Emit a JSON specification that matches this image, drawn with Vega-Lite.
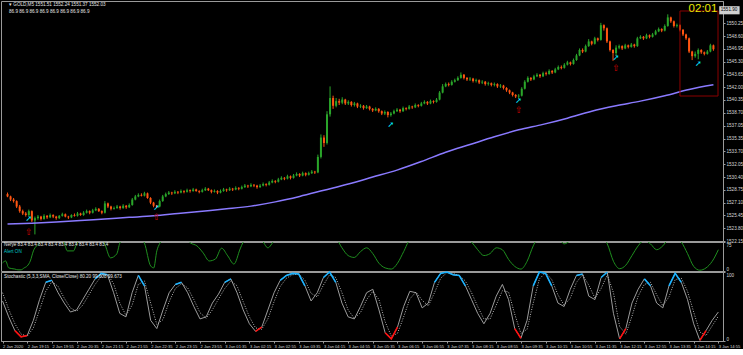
{
"$schema":"https://vega.github.io/schema/vega-lite/v6.json",
"padding":0,
"spacing":1,
"bounds":"flush",
"config":{"background":"#000000","view":{"stroke":"#9a9a9a","strokeWidth":1},
"axis":{"labelColor":"#d8d8d8","labelFont":"Liberation Sans","labelFontSize":4.6,"domainColor":"#9a9a9a","tickColor":"#9a9a9a","tickSize":2,"grid":false,"labelPadding":1,"labelOverlap":false},
"text":{"font":"Liberation Sans"}},
"datasets":{
"one":[{}],
"candles":[
{"t":0,"o":1528.2,"h":1528.4,"l":1527.8,"c":1527.9},{"t":1,"o":1527.9,"h":1528.0,"l":1527.3,"c":1527.5},{"t":2,"o":1527.5,"h":1527.7,"l":1527.1,"c":1527.3},{"t":3,"o":1527.3,"h":1527.4,"l":1526.4,"c":1526.6},{"t":4,"o":1526.6,"h":1526.8,"l":1525.8,"c":1526.0},{"t":5,"o":1526.0,"h":1526.2,"l":1525.5,"c":1525.7},{"t":6,"o":1525.7,"h":1525.9,"l":1525.3,"c":1525.5},{"t":7,"o":1525.5,"h":1526.2,"l":1525.3,"c":1526.0},{"t":8,"o":1526.0,"h":1526.1,"l":1524.6,"c":1524.8},{"t":9,"o":1524.8,"h":1525.3,"l":1523.0,"c":1525.1},
{"t":10,"o":1525.1,"h":1525.5,"l":1524.9,"c":1525.3},{"t":11,"o":1525.3,"h":1525.4,"l":1524.8,"c":1525.0},{"t":12,"o":1525.0,"h":1525.6,"l":1524.9,"c":1525.4},{"t":13,"o":1525.4,"h":1525.5,"l":1525.0,"c":1525.2},{"t":14,"o":1525.2,"h":1525.7,"l":1525.1,"c":1525.5},{"t":15,"o":1525.5,"h":1525.6,"l":1525.1,"c":1525.3},{"t":16,"o":1525.3,"h":1525.4,"l":1524.9,"c":1525.1},{"t":17,"o":1525.1,"h":1525.5,"l":1525.0,"c":1525.4},{"t":18,"o":1525.4,"h":1525.8,"l":1525.3,"c":1525.6},{"t":19,"o":1525.6,"h":1525.7,"l":1525.2,"c":1525.3},
{"t":20,"o":1525.3,"h":1525.4,"l":1525.0,"c":1525.2},{"t":21,"o":1525.2,"h":1525.6,"l":1525.1,"c":1525.5},{"t":22,"o":1525.5,"h":1525.7,"l":1525.3,"c":1525.4},{"t":23,"o":1525.4,"h":1525.9,"l":1525.3,"c":1525.7},{"t":24,"o":1525.7,"h":1525.8,"l":1525.4,"c":1525.5},{"t":25,"o":1525.5,"h":1526.0,"l":1525.4,"c":1525.8},{"t":26,"o":1525.8,"h":1526.2,"l":1525.7,"c":1526.0},{"t":27,"o":1526.0,"h":1526.1,"l":1525.6,"c":1525.8},{"t":28,"o":1525.8,"h":1526.3,"l":1525.7,"c":1526.1},{"t":29,"o":1526.1,"h":1526.5,"l":1526.0,"c":1526.3},
{"t":30,"o":1526.3,"h":1526.4,"l":1525.9,"c":1526.0},{"t":31,"o":1526.0,"h":1526.1,"l":1525.6,"c":1525.8},{"t":32,"o":1525.8,"h":1527.3,"l":1525.7,"c":1527.0},{"t":33,"o":1527.0,"h":1527.1,"l":1526.4,"c":1526.6},{"t":34,"o":1526.6,"h":1526.7,"l":1526.1,"c":1526.3},{"t":35,"o":1526.3,"h":1526.6,"l":1526.2,"c":1526.4},{"t":36,"o":1526.4,"h":1526.8,"l":1526.3,"c":1526.6},{"t":37,"o":1526.6,"h":1526.7,"l":1526.2,"c":1526.4},{"t":38,"o":1526.4,"h":1526.9,"l":1526.3,"c":1526.7},{"t":39,"o":1526.7,"h":1526.8,"l":1526.3,"c":1526.5},
{"t":40,"o":1526.5,"h":1527.0,"l":1526.4,"c":1526.8},{"t":41,"o":1526.8,"h":1527.7,"l":1526.7,"c":1527.5},{"t":42,"o":1527.5,"h":1528.1,"l":1527.4,"c":1527.9},{"t":43,"o":1527.9,"h":1528.3,"l":1527.8,"c":1528.1},{"t":44,"o":1528.1,"h":1528.3,"l":1527.9,"c":1528.0},{"t":45,"o":1528.0,"h":1528.5,"l":1527.9,"c":1528.3},{"t":46,"o":1528.3,"h":1528.4,"l":1527.6,"c":1527.7},{"t":47,"o":1527.7,"h":1527.8,"l":1526.9,"c":1527.1},{"t":48,"o":1527.1,"h":1527.2,"l":1526.5,"c":1526.7},{"t":49,"o":1526.7,"h":1526.8,"l":1526.4,"c":1526.6},
{"t":50,"o":1526.6,"h":1527.5,"l":1526.5,"c":1527.3},{"t":51,"o":1527.3,"h":1528.1,"l":1527.2,"c":1527.9},{"t":52,"o":1527.9,"h":1528.4,"l":1527.8,"c":1528.2},{"t":53,"o":1528.2,"h":1528.6,"l":1528.1,"c":1528.4},{"t":54,"o":1528.4,"h":1528.5,"l":1528.1,"c":1528.3},{"t":55,"o":1528.3,"h":1528.7,"l":1528.2,"c":1528.5},{"t":56,"o":1528.5,"h":1528.6,"l":1528.2,"c":1528.4},{"t":57,"o":1528.4,"h":1528.8,"l":1528.3,"c":1528.6},{"t":58,"o":1528.6,"h":1528.7,"l":1528.3,"c":1528.5},{"t":59,"o":1528.5,"h":1528.9,"l":1528.4,"c":1528.7},
{"t":60,"o":1528.7,"h":1528.8,"l":1528.4,"c":1528.6},{"t":61,"o":1528.6,"h":1529.0,"l":1528.5,"c":1528.8},{"t":62,"o":1528.8,"h":1528.9,"l":1528.5,"c":1528.6},{"t":63,"o":1528.6,"h":1528.7,"l":1528.3,"c":1528.5},{"t":64,"o":1528.5,"h":1528.9,"l":1528.4,"c":1528.7},{"t":65,"o":1528.7,"h":1529.1,"l":1528.6,"c":1528.9},{"t":66,"o":1528.9,"h":1529.0,"l":1528.6,"c":1528.7},{"t":67,"o":1528.7,"h":1528.8,"l":1528.3,"c":1528.5},{"t":68,"o":1528.5,"h":1528.8,"l":1528.4,"c":1528.6},{"t":69,"o":1528.6,"h":1528.7,"l":1528.2,"c":1528.4},
{"t":70,"o":1528.4,"h":1528.8,"l":1528.3,"c":1528.6},{"t":71,"o":1528.6,"h":1529.0,"l":1528.5,"c":1528.8},{"t":72,"o":1528.8,"h":1528.9,"l":1528.5,"c":1528.7},{"t":73,"o":1528.7,"h":1529.1,"l":1528.6,"c":1528.9},{"t":74,"o":1528.9,"h":1529.0,"l":1528.6,"c":1528.8},{"t":75,"o":1528.8,"h":1529.2,"l":1528.7,"c":1529.0},{"t":76,"o":1529.0,"h":1529.1,"l":1528.7,"c":1528.9},{"t":77,"o":1528.9,"h":1529.3,"l":1528.8,"c":1529.1},{"t":78,"o":1529.1,"h":1529.5,"l":1529.0,"c":1529.3},{"t":79,"o":1529.3,"h":1529.4,"l":1529.0,"c":1529.2},
{"t":80,"o":1529.2,"h":1529.6,"l":1529.1,"c":1529.4},{"t":81,"o":1529.4,"h":1529.5,"l":1529.1,"c":1529.3},{"t":82,"o":1529.3,"h":1529.4,"l":1528.9,"c":1529.1},{"t":83,"o":1529.1,"h":1529.5,"l":1529.0,"c":1529.3},{"t":84,"o":1529.3,"h":1529.7,"l":1529.2,"c":1529.5},{"t":85,"o":1529.5,"h":1529.6,"l":1529.2,"c":1529.4},{"t":86,"o":1529.4,"h":1529.9,"l":1529.3,"c":1529.7},{"t":87,"o":1529.7,"h":1530.1,"l":1529.6,"c":1529.9},{"t":88,"o":1529.9,"h":1530.0,"l":1529.6,"c":1529.8},{"t":89,"o":1529.8,"h":1530.3,"l":1529.7,"c":1530.1},
{"t":90,"o":1530.1,"h":1530.5,"l":1530.0,"c":1530.3},{"t":91,"o":1530.3,"h":1530.4,"l":1530.0,"c":1530.2},{"t":92,"o":1530.2,"h":1530.7,"l":1530.1,"c":1530.5},{"t":93,"o":1530.5,"h":1530.6,"l":1530.1,"c":1530.3},{"t":94,"o":1530.3,"h":1530.8,"l":1530.2,"c":1530.6},{"t":95,"o":1530.6,"h":1531.0,"l":1530.5,"c":1530.8},{"t":96,"o":1530.8,"h":1530.9,"l":1530.4,"c":1530.6},{"t":97,"o":1530.6,"h":1531.1,"l":1530.5,"c":1530.9},{"t":98,"o":1530.9,"h":1531.0,"l":1530.5,"c":1530.7},{"t":99,"o":1530.7,"h":1531.1,"l":1530.6,"c":1530.9},
{"t":100,"o":1530.9,"h":1531.3,"l":1530.8,"c":1531.1},{"t":101,"o":1531.1,"h":1531.2,"l":1530.8,"c":1531.0},{"t":102,"o":1531.0,"h":1533.3,"l":1530.9,"c":1533.0},{"t":103,"o":1533.0,"h":1535.9,"l":1532.8,"c":1535.5},{"t":104,"o":1535.5,"h":1535.8,"l":1534.3,"c":1534.8},{"t":105,"o":1534.8,"h":1538.9,"l":1534.6,"c":1538.5},{"t":106,"o":1538.5,"h":1542.1,"l":1538.2,"c":1540.6},{"t":107,"o":1540.6,"h":1540.9,"l":1539.2,"c":1539.6},{"t":108,"o":1539.6,"h":1540.6,"l":1539.4,"c":1540.2},{"t":109,"o":1540.2,"h":1540.5,"l":1539.7,"c":1540.0},
{"t":110,"o":1540.0,"h":1540.7,"l":1539.8,"c":1540.4},{"t":111,"o":1540.4,"h":1540.5,"l":1539.7,"c":1539.9},{"t":112,"o":1539.9,"h":1540.3,"l":1539.7,"c":1540.1},{"t":113,"o":1540.1,"h":1540.2,"l":1539.5,"c":1539.7},{"t":114,"o":1539.7,"h":1540.1,"l":1539.5,"c":1539.9},{"t":115,"o":1539.9,"h":1540.0,"l":1539.3,"c":1539.5},{"t":116,"o":1539.5,"h":1539.8,"l":1539.3,"c":1539.6},{"t":117,"o":1539.6,"h":1539.7,"l":1539.1,"c":1539.3},{"t":118,"o":1539.3,"h":1539.7,"l":1539.2,"c":1539.5},{"t":119,"o":1539.5,"h":1539.6,"l":1539.0,"c":1539.2},
{"t":120,"o":1539.2,"h":1539.3,"l":1538.8,"c":1539.0},{"t":121,"o":1539.0,"h":1539.4,"l":1538.9,"c":1539.2},{"t":122,"o":1539.2,"h":1539.3,"l":1538.7,"c":1538.9},{"t":123,"o":1538.9,"h":1539.0,"l":1538.4,"c":1538.6},{"t":124,"o":1538.6,"h":1539.0,"l":1538.4,"c":1538.8},{"t":125,"o":1538.8,"h":1538.9,"l":1538.1,"c":1538.4},{"t":126,"o":1538.4,"h":1538.8,"l":1538.2,"c":1538.6},{"t":127,"o":1538.6,"h":1539.1,"l":1538.5,"c":1538.9},{"t":128,"o":1538.9,"h":1539.3,"l":1538.8,"c":1539.1},{"t":129,"o":1539.1,"h":1539.2,"l":1538.7,"c":1538.9},
{"t":130,"o":1538.9,"h":1539.5,"l":1538.8,"c":1539.3},{"t":131,"o":1539.3,"h":1539.4,"l":1539.0,"c":1539.2},{"t":132,"o":1539.2,"h":1539.7,"l":1539.1,"c":1539.5},{"t":133,"o":1539.5,"h":1539.6,"l":1539.2,"c":1539.4},{"t":134,"o":1539.4,"h":1539.9,"l":1539.3,"c":1539.7},{"t":135,"o":1539.7,"h":1539.8,"l":1539.4,"c":1539.6},{"t":136,"o":1539.6,"h":1540.1,"l":1539.5,"c":1539.9},{"t":137,"o":1539.9,"h":1540.3,"l":1539.8,"c":1540.1},{"t":138,"o":1540.1,"h":1540.2,"l":1539.7,"c":1539.9},{"t":139,"o":1539.9,"h":1540.4,"l":1539.8,"c":1540.2},
{"t":140,"o":1540.2,"h":1540.3,"l":1539.9,"c":1540.1},{"t":141,"o":1540.1,"h":1540.6,"l":1540.0,"c":1540.4},{"t":142,"o":1540.4,"h":1541.5,"l":1540.3,"c":1541.3},{"t":143,"o":1541.3,"h":1542.4,"l":1541.2,"c":1542.1},{"t":144,"o":1542.1,"h":1542.6,"l":1542.0,"c":1542.4},{"t":145,"o":1542.4,"h":1542.6,"l":1542.1,"c":1542.3},{"t":146,"o":1542.3,"h":1542.9,"l":1542.2,"c":1542.7},{"t":147,"o":1542.7,"h":1543.1,"l":1542.6,"c":1542.9},{"t":148,"o":1542.9,"h":1543.4,"l":1542.8,"c":1543.2},{"t":149,"o":1543.2,"h":1543.9,"l":1543.1,"c":1543.6},
{"t":150,"o":1543.6,"h":1543.7,"l":1543.0,"c":1543.2},{"t":151,"o":1543.2,"h":1543.3,"l":1542.8,"c":1543.0},{"t":152,"o":1543.0,"h":1543.3,"l":1542.8,"c":1543.1},{"t":153,"o":1543.1,"h":1543.2,"l":1542.6,"c":1542.8},{"t":154,"o":1542.8,"h":1543.1,"l":1542.6,"c":1542.9},{"t":155,"o":1542.9,"h":1543.0,"l":1542.4,"c":1542.6},{"t":156,"o":1542.6,"h":1542.9,"l":1542.4,"c":1542.7},{"t":157,"o":1542.7,"h":1542.8,"l":1542.2,"c":1542.4},{"t":158,"o":1542.4,"h":1542.7,"l":1542.2,"c":1542.5},{"t":159,"o":1542.5,"h":1542.6,"l":1542.1,"c":1542.3},
{"t":160,"o":1542.3,"h":1542.6,"l":1542.1,"c":1542.4},{"t":161,"o":1542.4,"h":1542.5,"l":1541.9,"c":1542.1},{"t":162,"o":1542.1,"h":1542.4,"l":1541.9,"c":1542.2},{"t":163,"o":1542.2,"h":1542.3,"l":1541.7,"c":1541.9},{"t":164,"o":1541.9,"h":1542.0,"l":1541.4,"c":1541.6},{"t":165,"o":1541.6,"h":1541.7,"l":1541.1,"c":1541.3},{"t":166,"o":1541.3,"h":1541.4,"l":1540.8,"c":1541.0},{"t":167,"o":1541.0,"h":1541.1,"l":1540.6,"c":1540.8},{"t":168,"o":1540.8,"h":1541.1,"l":1540.5,"c":1540.9},{"t":169,"o":1540.9,"h":1542.0,"l":1540.8,"c":1541.8},
{"t":170,"o":1541.8,"h":1542.9,"l":1541.7,"c":1542.7},{"t":171,"o":1542.7,"h":1543.4,"l":1542.6,"c":1543.2},{"t":172,"o":1543.2,"h":1543.3,"l":1542.8,"c":1543.0},{"t":173,"o":1543.0,"h":1543.6,"l":1542.9,"c":1543.4},{"t":174,"o":1543.4,"h":1543.8,"l":1543.3,"c":1543.6},{"t":175,"o":1543.6,"h":1543.7,"l":1543.2,"c":1543.4},{"t":176,"o":1543.4,"h":1544.0,"l":1543.3,"c":1543.8},{"t":177,"o":1543.8,"h":1544.0,"l":1543.5,"c":1543.7},{"t":178,"o":1543.7,"h":1544.3,"l":1543.6,"c":1544.1},{"t":179,"o":1544.1,"h":1544.2,"l":1543.7,"c":1543.9},
{"t":180,"o":1543.9,"h":1544.5,"l":1543.8,"c":1544.3},{"t":181,"o":1544.3,"h":1544.8,"l":1544.2,"c":1544.6},{"t":182,"o":1544.6,"h":1544.8,"l":1544.3,"c":1544.5},{"t":183,"o":1544.5,"h":1545.1,"l":1544.4,"c":1544.9},{"t":184,"o":1544.9,"h":1545.4,"l":1544.8,"c":1545.2},{"t":185,"o":1545.2,"h":1545.3,"l":1544.8,"c":1545.0},{"t":186,"o":1545.0,"h":1545.7,"l":1544.9,"c":1545.5},{"t":187,"o":1545.5,"h":1546.3,"l":1545.4,"c":1546.1},{"t":188,"o":1546.1,"h":1547.0,"l":1546.0,"c":1546.8},{"t":189,"o":1546.8,"h":1547.0,"l":1546.4,"c":1546.6},
{"t":190,"o":1546.6,"h":1547.5,"l":1546.5,"c":1547.3},{"t":191,"o":1547.3,"h":1548.2,"l":1547.2,"c":1547.9},{"t":192,"o":1547.9,"h":1548.0,"l":1547.4,"c":1547.6},{"t":193,"o":1547.6,"h":1548.5,"l":1547.5,"c":1548.3},{"t":194,"o":1548.3,"h":1548.4,"l":1547.9,"c":1548.1},{"t":195,"o":1548.1,"h":1550.3,"l":1548.0,"c":1550.0},{"t":196,"o":1550.0,"h":1550.1,"l":1549.3,"c":1549.6},{"t":197,"o":1549.6,"h":1549.7,"l":1547.7,"c":1547.9},{"t":198,"o":1547.9,"h":1548.0,"l":1546.6,"c":1546.8},{"t":199,"o":1546.8,"h":1546.9,"l":1545.4,"c":1546.4},
{"t":200,"o":1546.4,"h":1547.4,"l":1546.0,"c":1547.1},{"t":201,"o":1547.1,"h":1547.5,"l":1546.9,"c":1547.3},{"t":202,"o":1547.3,"h":1547.4,"l":1546.8,"c":1547.0},{"t":203,"o":1547.0,"h":1547.6,"l":1546.9,"c":1547.4},{"t":204,"o":1547.4,"h":1547.5,"l":1547.0,"c":1547.2},{"t":205,"o":1547.2,"h":1547.7,"l":1547.1,"c":1547.5},{"t":206,"o":1547.5,"h":1547.6,"l":1547.1,"c":1547.3},{"t":207,"o":1547.3,"h":1548.5,"l":1547.2,"c":1548.3},{"t":208,"o":1548.3,"h":1548.7,"l":1548.2,"c":1548.5},{"t":209,"o":1548.5,"h":1548.6,"l":1548.1,"c":1548.3},
{"t":210,"o":1548.3,"h":1548.9,"l":1548.2,"c":1548.7},{"t":211,"o":1548.7,"h":1548.8,"l":1548.3,"c":1548.5},{"t":212,"o":1548.5,"h":1549.0,"l":1548.4,"c":1548.8},{"t":213,"o":1548.8,"h":1549.4,"l":1548.7,"c":1549.2},{"t":214,"o":1549.2,"h":1549.7,"l":1549.1,"c":1549.5},{"t":215,"o":1549.5,"h":1549.6,"l":1549.1,"c":1549.3},{"t":216,"o":1549.3,"h":1550.1,"l":1549.2,"c":1549.9},{"t":217,"o":1549.9,"h":1551.4,"l":1549.8,"c":1551.0},{"t":218,"o":1551.0,"h":1551.1,"l":1550.3,"c":1550.5},{"t":219,"o":1550.5,"h":1550.6,"l":1549.7,"c":1549.9},
{"t":220,"o":1549.9,"h":1550.2,"l":1549.7,"c":1550.0},{"t":221,"o":1550.0,"h":1550.1,"l":1549.2,"c":1549.4},{"t":222,"o":1549.4,"h":1549.5,"l":1548.6,"c":1548.8},{"t":223,"o":1548.8,"h":1548.9,"l":1548.1,"c":1548.3},{"t":224,"o":1548.3,"h":1548.4,"l":1546.4,"c":1546.6},{"t":225,"o":1546.6,"h":1546.7,"l":1545.5,"c":1546.0},{"t":226,"o":1546.0,"h":1546.6,"l":1545.8,"c":1546.3},{"t":227,"o":1546.3,"h":1547.0,"l":1545.6,"c":1546.8},{"t":228,"o":1546.8,"h":1546.9,"l":1546.3,"c":1546.5},{"t":229,"o":1546.5,"h":1546.6,"l":1546.1,"c":1546.3},
{"t":230,"o":1546.3,"h":1546.8,"l":1546.2,"c":1546.6},{"t":231,"o":1546.6,"h":1547.6,"l":1546.5,"c":1547.4},{"t":232,"o":1547.4,"h":1547.5,"l":1546.7,"c":1546.9}
],
"ma":[
{"t":0,"m":1524.35},{"t":8,"m":1524.45},{"t":16,"m":1524.6},{"t":24,"m":1524.8},{"t":32,"m":1525.0},{"t":40,"m":1525.2},{"t":48,"m":1525.4},{"t":56,"m":1525.7},{"t":64,"m":1526.0},{"t":72,"m":1526.3},{"t":80,"m":1526.65},{"t":88,"m":1527.2},{"t":96,"m":1527.9},{"t":104,"m":1528.7},{"t":112,"m":1529.5},{"t":120,"m":1530.4},{"t":128,"m":1531.3},{"t":136,"m":1532.4},{"t":144,"m":1533.6},{"t":152,"m":1534.6},{"t":160,"m":1535.6},{"t":168,"m":1536.5},{"t":176,"m":1537.2},{"t":184,"m":1538.0},{"t":192,"m":1538.9},{"t":200,"m":1539.6},{"t":208,"m":1540.2},{"t":216,"m":1540.9},{"t":224,"m":1541.7},{"t":232,"m":1542.3}
],
"signals":[
{"t":7,"p":1525.0,"k":"up"},{"t":49,"p":1526.4,"k":"up"},{"t":126,"p":1537.1,"k":"up"},{"t":168,"p":1540.2,"k":"up"},{"t":200,"p":1545.8,"k":"up"},{"t":227,"p":1545.0,"k":"up"},
{"t":7,"p":1523.3,"k":"alt"},{"t":49,"p":1525.3,"k":"alt"},{"t":168,"p":1539.0,"k":"alt"},{"t":200,"p":1544.5,"k":"alt"}
],
"nerye":[
{"t":0,"n":21},{"t":1,"n":26},{"t":2,"n":8},{"t":4,"n":5},{"t":5,"n":3},{"t":6,"n":3},{"t":7,"n":8},{"t":8,"n":13},{"t":9,"n":26},{"t":10,"n":52},{"t":12,"n":72},{"t":14,"n":90},{"t":17,"n":95},{"t":20,"n":72},{"t":21,"n":52},{"t":23,"n":52},{"t":24,"n":70},{"t":27,"n":90},{"t":31,"n":90},{"t":33,"n":72},{"t":35,"n":34},{"t":37,"n":44},{"t":38,"n":72},{"t":40,"n":90},{"t":44,"n":92},{"t":46,"n":72},{"t":48,"n":13},{"t":49,"n":8},{"t":50,"n":52},{"t":51,"n":72},{"t":53,"n":90},{"t":58,"n":95},{"t":61,"n":72},{"t":63,"n":65},{"t":65,"n":47},{"t":67,"n":26},{"t":69,"n":31},{"t":71,"n":59},{"t":73,"n":39},{"t":75,"n":18},{"t":77,"n":57},{"t":78,"n":75},{"t":80,"n":92},{"t":84,"n":80},{"t":86,"n":60},{"t":88,"n":78},{"t":92,"n":95},{"t":100,"n":90},{"t":104,"n":95},{"t":108,"n":85},{"t":110,"n":60},{"t":112,"n":40},{"t":114,"n":35},{"t":116,"n":50},{"t":118,"n":60},{"t":120,"n":45},{"t":122,"n":20},{"t":124,"n":8},{"t":126,"n":5},{"t":128,"n":20},{"t":130,"n":50},{"t":132,"n":80},{"t":136,"n":90},{"t":142,"n":95},{"t":148,"n":92},{"t":152,"n":75},{"t":154,"n":55},{"t":156,"n":40},{"t":158,"n":45},{"t":160,"n":60},{"t":162,"n":55},{"t":164,"n":30},{"t":166,"n":12},{"t":168,"n":5},{"t":170,"n":25},{"t":172,"n":65},{"t":174,"n":90},{"t":180,"n":88},{"t":182,"n":70},{"t":184,"n":78},{"t":188,"n":92},{"t":194,"n":90},{"t":196,"n":70},{"t":198,"n":25},{"t":200,"n":6},{"t":202,"n":15},{"t":204,"n":40},{"t":206,"n":65},{"t":208,"n":80},{"t":210,"n":70},{"t":212,"n":55},{"t":214,"n":65},{"t":216,"n":85},{"t":218,"n":90},{"t":220,"n":75},{"t":222,"n":45},{"t":224,"n":12},{"t":226,"n":2},{"t":228,"n":8},{"t":230,"n":25},{"t":232,"n":55}
],
"stoch":[
{"t":0,"k":58,"d":70,"kh":null,"kl":null},{"t":2,"k":35,"d":46,"kh":null,"kl":null},{"t":4,"k":15,"d":25,"kh":null,"kl":15},{"t":6,"k":6,"d":10,"kh":null,"kl":6},{"t":8,"k":8,"d":7,"kh":null,"kl":8},{"t":10,"k":30,"d":19,"kh":null,"kl":null},{"t":12,"k":60,"d":45,"kh":null,"kl":null},{"t":14,"k":85,"d":72,"kh":85,"kl":null},{"t":16,"k":88,"d":86,"kh":88,"kl":null},{"t":18,"k":70,"d":79,"kh":null,"kl":null},
{"t":20,"k":55,"d":62,"kh":null,"kl":null},{"t":22,"k":42,"d":48,"kh":null,"kl":null},{"t":24,"k":45,"d":43,"kh":null,"kl":null},{"t":26,"k":60,"d":52,"kh":null,"kl":null},{"t":28,"k":75,"d":67,"kh":null,"kl":null},{"t":30,"k":90,"d":82,"kh":90,"kl":null},{"t":32,"k":98,"d":94,"kh":98,"kl":null},{"t":34,"k":96,"d":97,"kh":96,"kl":null},{"t":36,"k":70,"d":83,"kh":null,"kl":null},{"t":38,"k":40,"d":55,"kh":null,"kl":null},
{"t":40,"k":35,"d":37,"kh":null,"kl":null},{"t":42,"k":70,"d":52,"kh":null,"kl":null},{"t":44,"k":95,"d":82,"kh":95,"kl":null},{"t":46,"k":80,"d":87,"kh":80,"kl":null},{"t":48,"k":30,"d":55,"kh":null,"kl":null},{"t":50,"k":18,"d":24,"kh":null,"kl":18},{"t":52,"k":45,"d":31,"kh":null,"kl":null},{"t":54,"k":70,"d":57,"kh":null,"kl":null},{"t":56,"k":82,"d":76,"kh":82,"kl":null},{"t":58,"k":85,"d":83,"kh":85,"kl":null},
{"t":60,"k":70,"d":77,"kh":null,"kl":null},{"t":62,"k":50,"d":60,"kh":null,"kl":null},{"t":64,"k":32,"d":41,"kh":null,"kl":null},{"t":66,"k":35,"d":33,"kh":null,"kl":null},{"t":68,"k":55,"d":45,"kh":null,"kl":null},{"t":70,"k":68,"d":61,"kh":null,"kl":null},{"t":72,"k":85,"d":76,"kh":85,"kl":null},{"t":74,"k":90,"d":87,"kh":90,"kl":null},{"t":76,"k":70,"d":80,"kh":null,"kl":null},{"t":78,"k":45,"d":57,"kh":null,"kl":null},
{"t":80,"k":25,"d":35,"kh":null,"kl":null},{"t":82,"k":14,"d":19,"kh":null,"kl":14},{"t":84,"k":20,"d":17,"kh":null,"kl":20},{"t":86,"k":45,"d":32,"kh":null,"kl":null},{"t":88,"k":70,"d":57,"kh":null,"kl":null},{"t":90,"k":88,"d":79,"kh":88,"kl":null},{"t":92,"k":95,"d":91,"kh":95,"kl":null},{"t":94,"k":98,"d":96,"kh":98,"kl":null},{"t":96,"k":97,"d":97,"kh":97,"kl":null},{"t":98,"k":80,"d":88,"kh":80,"kl":null},
{"t":100,"k":58,"d":69,"kh":null,"kl":null},{"t":102,"k":70,"d":64,"kh":null,"kl":null},{"t":104,"k":92,"d":81,"kh":92,"kl":null},{"t":106,"k":100,"d":96,"kh":100,"kl":null},{"t":108,"k":85,"d":92,"kh":85,"kl":null},{"t":110,"k":55,"d":70,"kh":null,"kl":null},{"t":112,"k":35,"d":45,"kh":null,"kl":null},{"t":114,"k":32,"d":33,"kh":null,"kl":null},{"t":116,"k":50,"d":41,"kh":null,"kl":null},{"t":118,"k":70,"d":60,"kh":null,"kl":null},
{"t":120,"k":75,"d":72,"kh":null,"kl":null},{"t":122,"k":45,"d":60,"kh":null,"kl":null},{"t":124,"k":12,"d":28,"kh":null,"kl":12},{"t":126,"k":3,"d":7,"kh":null,"kl":3},{"t":128,"k":20,"d":11,"kh":null,"kl":20},{"t":130,"k":50,"d":35,"kh":null,"kl":null},{"t":132,"k":72,"d":61,"kh":null,"kl":null},{"t":134,"k":70,"d":71,"kh":null,"kl":null},{"t":136,"k":48,"d":59,"kh":null,"kl":null},{"t":138,"k":55,"d":51,"kh":null,"kl":null},
{"t":140,"k":85,"d":70,"kh":85,"kl":null},{"t":142,"k":98,"d":91,"kh":98,"kl":null},{"t":144,"k":100,"d":99,"kh":100,"kl":null},{"t":146,"k":96,"d":98,"kh":96,"kl":null},{"t":148,"k":95,"d":95,"kh":95,"kl":null},{"t":150,"k":80,"d":87,"kh":80,"kl":null},{"t":152,"k":60,"d":70,"kh":null,"kl":null},{"t":154,"k":40,"d":50,"kh":null,"kl":null},{"t":156,"k":25,"d":32,"kh":null,"kl":null},{"t":158,"k":40,"d":32,"kh":null,"kl":null},
{"t":160,"k":65,"d":52,"kh":null,"kl":null},{"t":162,"k":82,"d":73,"kh":82,"kl":null},{"t":164,"k":60,"d":71,"kh":null,"kl":null},{"t":166,"k":18,"d":39,"kh":null,"kl":18},{"t":168,"k":4,"d":11,"kh":null,"kl":4},{"t":170,"k":30,"d":17,"kh":null,"kl":null},{"t":172,"k":80,"d":55,"kh":80,"kl":null},{"t":174,"k":100,"d":90,"kh":100,"kl":null},{"t":176,"k":98,"d":99,"kh":98,"kl":null},{"t":178,"k":80,"d":89,"kh":80,"kl":null},
{"t":180,"k":55,"d":67,"kh":null,"kl":null},{"t":182,"k":50,"d":52,"kh":null,"kl":null},{"t":184,"k":75,"d":62,"kh":null,"kl":null},{"t":186,"k":95,"d":85,"kh":95,"kl":null},{"t":188,"k":97,"d":96,"kh":97,"kl":null},{"t":190,"k":65,"d":81,"kh":null,"kl":null},{"t":192,"k":60,"d":62,"kh":null,"kl":null},{"t":194,"k":92,"d":76,"kh":92,"kl":null},{"t":196,"k":100,"d":96,"kh":100,"kl":null},{"t":198,"k":40,"d":70,"kh":null,"kl":null},
{"t":200,"k":3,"d":21,"kh":null,"kl":3},{"t":202,"k":18,"d":10,"kh":null,"kl":18},{"t":204,"k":55,"d":36,"kh":null,"kl":null},{"t":206,"k":75,"d":65,"kh":null,"kl":null},{"t":208,"k":90,"d":82,"kh":90,"kl":null},{"t":210,"k":80,"d":85,"kh":80,"kl":null},{"t":212,"k":55,"d":67,"kh":null,"kl":null},{"t":214,"k":48,"d":51,"kh":null,"kl":null},{"t":216,"k":80,"d":64,"kh":80,"kl":null},{"t":218,"k":98,"d":89,"kh":98,"kl":null},
{"t":220,"k":85,"d":91,"kh":85,"kl":null},{"t":222,"k":60,"d":72,"kh":null,"kl":null},{"t":224,"k":25,"d":42,"kh":null,"kl":null},{"t":226,"k":1,"d":13,"kh":null,"kl":1},{"t":228,"k":15,"d":8,"kh":null,"kl":15},{"t":230,"k":30,"d":22,"kh":null,"kl":null},{"t":232,"k":42,"d":36,"kh":null,"kl":null}
]
},
"vconcat":[
{"width":722,"height":240,
"layer":[
{"data":{"name":"candles"},"mark":{"type":"rule","strokeWidth":1},
"encoding":{"x":{"field":"t","type":"quantitative","scale":{"domain":[-0.5,233.5],"nice":false,"zero":false},"axis":null},
"y":{"field":"l","type":"quantitative","scale":{"domain":[1522.15,1553.12],"nice":false,"zero":false},"title":null,
"axis":{"orient":"right","tickCount":100,"labelOverlap":false,"values":[1522.15,1523.8,1525.45,1527.1,1528.75,1530.4,1532.05,1533.7,1535.35,1537.05,1538.7,1540.35,1542,1543.65,1545.3,1546.95,1548.6,1550.25],"format":".2f"}},
"y2":{"field":"h"},
"color":{"condition":{"test":"datum.c>=datum.o","value":"#2aa52a"},"value":"#ff5511"}}},
{"data":{"name":"candles"},"mark":{"type":"bar","size":2},
"encoding":{"x":{"field":"t","type":"quantitative","axis":null},
"y":{"field":"o","type":"quantitative","title":null},"y2":{"field":"c"},
"color":{"condition":{"test":"datum.c>=datum.o","value":"#2aa52a"},"value":"#ff5511"}}},
{"data":{"name":"ma"},"mark":{"type":"line","color":"#8a7aff","strokeWidth":1.5,"interpolate":"monotone"},
"encoding":{"x":{"field":"t","type":"quantitative","axis":null},"y":{"field":"m","type":"quantitative","title":null}}},
{"data":{"name":"signals"},"transform":[{"filter":"datum.k=='up'"}],"mark":{"type":"text","text":"➚","color":"#00e8ff","fontSize":8,"font":"DejaVu Sans","fontWeight":"bold","baseline":"middle","align":"center"},
"encoding":{"x":{"field":"t","type":"quantitative","axis":null},"y":{"field":"p","type":"quantitative","title":null}}},
{"data":{"name":"signals"},"transform":[{"filter":"datum.k=='alt'"}],"mark":{"type":"text","text":"⇧","color":"#d00000","fontSize":9,"font":"DejaVu Sans","baseline":"middle","align":"center"},
"encoding":{"x":{"field":"t","type":"quantitative","axis":null},"y":{"field":"p","type":"quantitative","title":null}}},
{"data":{"name":"one"},"mark":{"type":"rect","filled":false,"stroke":"#8b0000","strokeWidth":1},
"encoding":{"x":{"datum":221,"type":"quantitative"},"x2":{"datum":233.5},"y":{"datum":1540.86,"type":"quantitative"},"y2":{"datum":1551.83}}},
{"data":{"name":"one"},"mark":{"type":"text","color":"#e6e6e6","fontSize":4.6,"align":"left","baseline":"middle"},
"encoding":{"x":{"datum":0.5,"type":"quantitative"},"y":{"datum":1552.62,"type":"quantitative"},"text":{"value":"▾ GOLD,M5  1551.51 1552.24 1551.37 1552.03"}}},
{"data":{"name":"one"},"mark":{"type":"text","color":"#e6e6e6","fontSize":4.6,"align":"left","baseline":"middle"},
"encoding":{"x":{"datum":0.5,"type":"quantitative"},"y":{"datum":1551.7,"type":"quantitative"},"text":{"value":"86.9 86.9 86.9 86.9 86.9 86.9 86.9 86.9"}}},
{"data":{"name":"one"},"mark":{"type":"text","color":"#e8e800","fontSize":11.5,"align":"right","baseline":"middle"},
"encoding":{"x":{"datum":233.3,"type":"quantitative"},"y":{"datum":1552.1,"type":"quantitative"},"text":{"value":"02:01"}}},
{"data":{"name":"one"},"mark":{"type":"rect","fill":"#d0d0d0"},
"encoding":{"x":{"datum":233.9,"type":"quantitative"},"x2":{"datum":240.6},"y":{"datum":1552.45,"type":"quantitative"},"y2":{"datum":1551.4}}},
{"data":{"name":"one"},"mark":{"type":"text","color":"#000000","fontSize":4.6,"align":"left","baseline":"middle"},
"encoding":{"x":{"datum":234.4,"type":"quantitative"},"y":{"datum":1551.92,"type":"quantitative"},"text":{"value":"1551.90"}}}
]},
{"width":722,"height":29,
"layer":[
{"data":{"name":"nerye"},"mark":{"type":"line","color":"#1f8f1f","strokeWidth":1,"interpolate":"monotone","clip":true},
"encoding":{"x":{"field":"t","type":"quantitative","scale":{"domain":[-0.5,233.5],"nice":false,"zero":false},"axis":null},
"y":{"field":"n","type":"quantitative","scale":{"domain":[0,75],"nice":false,"zero":false},"title":null,"axis":{"orient":"right","tickCount":10,"labelOverlap":false,"values":[0,75],"labelFlush":true}}}},
{"data":{"name":"one"},"mark":{"type":"text","color":"#e6e6e6","fontSize":4.6,"align":"left","baseline":"middle"},
"encoding":{"x":{"datum":0.5,"type":"quantitative"},"y":{"datum":66,"type":"quantitative"},"text":{"value":"Nerye 83.4 83.4 83.4 83.4 83.4 83.4 83.4 83.4 83.4"}}},
{"data":{"name":"one"},"mark":{"type":"text","color":"#00c8c8","fontSize":4.6,"align":"left","baseline":"middle"},
"encoding":{"x":{"datum":0.5,"type":"quantitative"},"y":{"datum":50,"type":"quantitative"},"text":{"value":"Alert ON"}}}
]},
{"width":722,"height":69,
"layer":[
{"data":{"name":"stoch"},"mark":{"type":"line","color":"#9c9c9c","strokeWidth":1},
"encoding":{"x":{"field":"t","type":"quantitative","scale":{"domain":[-0.5,233.5],"nice":false,"zero":false},"title":null,
"axis":{"orient":"bottom","tickCount":100,"labelFontSize":4.1,"values":[0,8,16,24,32,40,48,56,64,72,80,88,96,104,112,120,128,136,144,152,160,168,176,184,192,200,208,216,224,232],"labelAlign":"left","labelFlush":false,"labelOverlap":false,"labelPadding":1,
"labelExpr":"['2 Jan 2020','2 Jan 19:15','2 Jan 19:55','2 Jan 20:35','2 Jan 21:15','2 Jan 21:55','2 Jan 22:35','2 Jan 23:15','2 Jan 23:55','3 Jan 01:35','3 Jan 02:15','3 Jan 02:55','3 Jan 03:35','3 Jan 04:15','3 Jan 04:55','3 Jan 05:35','3 Jan 06:15','3 Jan 06:55','3 Jan 07:35','3 Jan 08:15','3 Jan 08:55','3 Jan 09:35','3 Jan 10:15','3 Jan 10:55','3 Jan 11:35','3 Jan 12:15','3 Jan 12:55','3 Jan 13:35','3 Jan 14:15','3 Jan 14:55'][round(datum.value/8)]"}},
"y":{"field":"k","type":"quantitative","scale":{"domain":[0,100],"nice":false,"zero":false},"title":null,"axis":{"orient":"right","tickCount":10,"labelOverlap":false,"values":[0,100],"labelFlush":true}}}},
{"data":{"name":"stoch"},"mark":{"type":"line","color":"#b8b8b8","strokeWidth":1,"strokeDash":[1,1.5]},
"encoding":{"x":{"field":"t","type":"quantitative"},"y":{"field":"d","type":"quantitative","title":null}}},
{"data":{"name":"stoch"},"mark":{"type":"line","color":"#1ab2ff","strokeWidth":1.6,"invalid":"break-paths-filter-domains"},
"encoding":{"x":{"field":"t","type":"quantitative"},"y":{"field":"kh","type":"quantitative","title":null}}},
{"data":{"name":"stoch"},"mark":{"type":"line","color":"#ff1010","strokeWidth":1.6,"invalid":"break-paths-filter-domains"},
"encoding":{"x":{"field":"t","type":"quantitative"},"y":{"field":"kl","type":"quantitative","title":null}}},
{"data":{"name":"one"},"mark":{"type":"text","color":"#e6e6e6","fontSize":4.6,"align":"left","baseline":"middle"},
"encoding":{"x":{"datum":0.5,"type":"quantitative"},"y":{"datum":93,"type":"quantitative"},"text":{"value":"Stochastic (5,3,3,SMA, Close/Close) 80.20 99.608 99.673"}}}
]}
]
}
